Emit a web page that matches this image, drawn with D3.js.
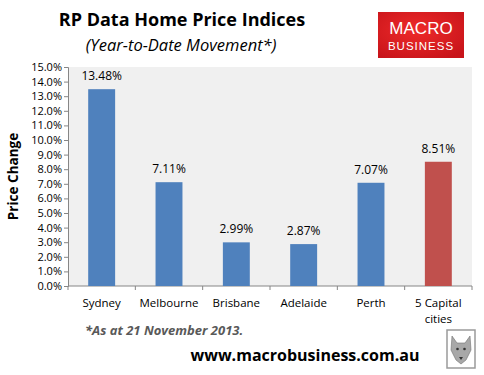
<!DOCTYPE html>
<html>
<head>
<meta charset="utf-8">
<script src="https://cdn.jsdelivr.net/npm/d3@7"></script>
<style>
	body { margin: 0; background: #fff; }
	svg { display: block; font-family: "Open Sans", "Liberation Sans", sans-serif; }
</style>
</head>
<body>
<div id="chart"></div>
<script>
// categories and values
const CITIES = ['Sydney', 'Melbourne', 'Brisbane', 'Adelaide', 'Perth', '5 Capital cities'];
const YTD_CHANGE = [13.48, 7.11, 2.99, 2.87, 7.07, 8.51];
const Y_TICKS = [0, 1, 2, 3, 4, 5, 6, 7, 8, 9, 10, 11, 12, 13, 14, 15];

// colours
const COLOR_PALETTE = {
	city: '#4f81bd',
	total: '#c0504d',
	plotBg: '#f0f0f0',
	axis: '#868686',
	text: '#000',
	note: '#595959'
};

// plot area
const PLOT = { x0: 68, x1: 472, y0: 67, y1: 286 };

const W = 484, H = 375;

const svg = d3.select('#chart').append('svg')
	.attr('width', W)
	.attr('height', H);

const data = CITIES.map((c, i) => ({ name: c, val: YTD_CHANGE[i], total: i === CITIES.length - 1 }));

const x = d3.scaleBand()
	.domain(CITIES)
	.range([PLOT.x0, PLOT.x1])
	.paddingInner(0.6)
	.paddingOuter(0.3);

const y = d3.scaleLinear()
	.domain([0, 15])
	.range([PLOT.y1, PLOT.y0]);

// titles
svg.append('text')
	.attr('x', 182).attr('y', 26)
	.attr('text-anchor', 'middle')
	.attr('font-size', 18).attr('font-weight', 'bold')
	.text('RP Data Home Price Indices');

svg.append('text')
	.attr('x', 181).attr('y', 51)
	.attr('text-anchor', 'middle')
	.attr('font-size', 16.5).attr('font-style', 'italic')
	.text('(Year-to-Date Movement*)');

// logo
const logo = svg.append('g').attr('transform', 'translate(378,12)');
const grad = svg.append('defs').append('radialGradient')
	.attr('id', 'logoGrad').attr('cx', '45%').attr('cy', '40%').attr('r', '70%');
grad.append('stop').attr('offset', '0%').attr('stop-color', '#ee2a2a');
grad.append('stop').attr('offset', '100%').attr('stop-color', '#c8141a');
logo.append('rect')
	.attr('width', 86).attr('height', 46)
	.attr('fill', 'url(#logoGrad)');
logo.append('text')
	.attr('x', 43).attr('y', 22)
	.attr('text-anchor', 'middle')
	.attr('fill', '#fff').attr('font-size', 17)
	.attr('font-family', '"Liberation Sans", sans-serif')
	.text('MACRO');
logo.append('text')
	.attr('x', 43).attr('y', 38)
	.attr('text-anchor', 'middle')
	.attr('fill', '#fff').attr('font-size', 11.5)
	.attr('letter-spacing', 1)
	.attr('font-family', '"Liberation Sans", sans-serif')
	.text('BUSINESS');

// plot background
svg.append('rect')
	.attr('x', PLOT.x0).attr('y', PLOT.y0)
	.attr('width', PLOT.x1 - PLOT.x0).attr('height', PLOT.y1 - PLOT.y0)
	.attr('fill', COLOR_PALETTE.plotBg);

// y axis
const gY = svg.append('g')
	.attr('transform', `translate(${PLOT.x0},0)`)
	.call(d3.axisLeft(y).tickValues(Y_TICKS).tickSize(4).tickFormat(d => d.toFixed(1) + '%'));
gY.select('.domain').attr('stroke', COLOR_PALETTE.axis);
gY.selectAll('.tick line').attr('stroke', COLOR_PALETTE.axis);
gY.selectAll('.tick text')
	.attr('font-size', 11)
	.attr('font-family', '"Open Sans", sans-serif')
	.attr('fill', COLOR_PALETTE.text)
	.attr('x', -6);

svg.append('text')
	.attr('transform', `translate(18,${(PLOT.y0 + PLOT.y1) / 2}) rotate(-90)`)
	.attr('text-anchor', 'middle')
	.attr('font-size', 13.5).attr('font-weight', 'bold')
	.text('Price Change');

// x axis: ticks on band edges
const gX = svg.append('g')
	.attr('transform', `translate(0,${PLOT.y1})`);
gX.append('line')
	.attr('x1', PLOT.x0).attr('x2', PLOT.x1)
	.attr('stroke', COLOR_PALETTE.axis);
const step = x.step();
const edges = CITIES.map(c => x(c) - (step - x.bandwidth()) / 2).concat([PLOT.x1]);
gX.selectAll('line.edge')
	.data(edges)
	.join('line')
	.attr('class', 'edge')
	.attr('x1', d => d).attr('x2', d => d)
	.attr('y1', 0).attr('y2', 4)
	.attr('stroke', COLOR_PALETTE.axis);

const catLabels = gX.selectAll('text.cat')
	.data(CITIES)
	.join('text')
	.attr('class', 'cat')
	.attr('text-anchor', 'middle')
	.attr('font-size', 11.5)
	.attr('x', d => x(d) + x.bandwidth() / 2)
	.attr('y', 21);
catLabels.each(function(d) {
	const parts = d === '5 Capital cities' ? ['5 Capital', 'cities'] : [d];
	d3.select(this).selectAll('tspan')
		.data(parts)
		.join('tspan')
		.attr('x', x(d) + x.bandwidth() / 2)
		.attr('dy', (p, i) => i ? 16 : 0)
		.text(p => p);
});

// bars
svg.append('g').selectAll('rect')
	.data(data)
	.join('rect')
	.attr('x', d => x(d.name))
	.attr('width', x.bandwidth())
	.attr('y', d => y(d.val))
	.attr('height', d => y(0) - y(d.val))
	.attr('fill', d => d.total ? COLOR_PALETTE.total : COLOR_PALETTE.city);

// value labels
svg.append('g').selectAll('text')
	.data(data)
	.join('text')
	.attr('x', d => x(d.name) + x.bandwidth() / 2)
	.attr('y', d => y(d.val) - 9)
	.attr('text-anchor', 'middle')
	.attr('font-size', 12)
	.text(d => d.val.toFixed(2) + '%');

// footnote
svg.append('text')
	.attr('x', 85).attr('y', 335)
	.attr('font-size', 13).attr('font-weight', 'bold').attr('font-style', 'italic')
	.attr('fill', COLOR_PALETTE.note)
	.text('*As at 21 November 2013.');

svg.append('text')
	.attr('x', 305).attr('y', 361)
	.attr('text-anchor', 'middle')
	.attr('font-size', 16).attr('font-weight', 'bold')
	.text('www.macrobusiness.com.au');

// wolf badge
const badge = svg.append('g').attr('transform', 'translate(447,330)');
badge.append('rect')
	.attr('width', 28).attr('height', 38)
	.attr('fill', '#fff').attr('stroke', '#9a9a9a').attr('stroke-width', 1.5);
badge.append('path')
	.attr('d', 'M5,6 L10,13 L18,13 L23,6 L24,20 L19,30 L14,34 L9,30 L4,20 Z')
	.attr('fill', '#a8a8a8').attr('stroke', '#707070').attr('stroke-width', 0.6);
badge.append('circle').attr('cx', 10.5).attr('cy', 19).attr('r', 1.3).attr('fill', '#333');
badge.append('circle').attr('cx', 17.5).attr('cy', 19).attr('r', 1.3).attr('fill', '#333');
badge.append('path').attr('d', 'M12,27 L16,27 L14,30 Z').attr('fill', '#333');
</script>
</body>
</html>
